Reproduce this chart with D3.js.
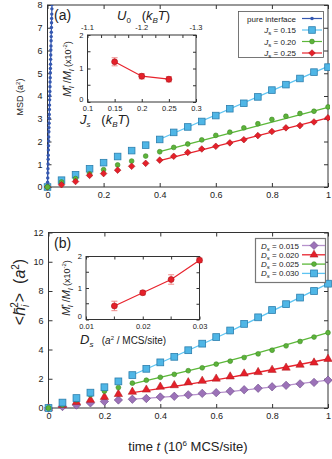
<!DOCTYPE html>
<html><head><meta charset="utf-8">
<script src="https://cdn.jsdelivr.net/npm/d3@7/dist/d3.min.js"></script>
<style>
body{margin:0;background:#fff;}
svg{display:block;font-family:"Liberation Sans",Arial,sans-serif;}
</style></head><body>
<script>
// ---------------- DATA ----------------
const timesMain = [0,0.05,0.1,0.15,0.2,0.25,0.3,0.35,0.4,0.45,0.5,0.55,0.6,0.65,0.7,0.75,0.8,0.85,0.9,0.95,1.0];
// panel (a) MSD (a^2)
const pureT   = [0,0.0004,0.0008,0.0012,0.0016,0.0020,0.0024,0.0028,0.0032,0.0036,0.0040,0.0044,0.0048,0.0052,0.0056,0.0060,0.0064,0.0068,0.0072,0.0076,0.0080,0.0084,0.0088,0.0092,0.0096,0.0100,0.0104,0.0108,0.0112,0.0116,0.0120,0.0124,0.0128,0.0132,0.0136,0.0140,0.0144,0.0148,0.0152,0.0156,0.0160];
const pureMSD = [0,0.21,0.40,0.62,0.80,1.01,1.22,1.40,1.63,1.81,2.02,2.20,2.43,2.61,2.80,3.02,3.19,3.41,3.60,3.83,4.01,4.20,4.41,4.62,4.80,5.02,5.21,5.40,5.61,5.80,6.02,6.20,6.43,6.61,6.80,7.01,7.22,7.41,7.60,7.83,8.02];
const msdJs015 = [0,0.30,0.54,0.80,1.07,1.34,1.60,1.84,2.09,2.40,2.64,2.88,3.14,3.44,3.68,3.96,4.26,4.50,4.77,5.05,5.27];
const msdJs020 = [0,0.22,0.37,0.58,0.76,0.97,1.14,1.36,1.55,1.74,1.89,2.07,2.27,2.41,2.60,2.78,2.97,3.11,3.23,3.33,3.52];
const msdJs025 = [0,0.10,0.24,0.51,0.59,0.74,0.91,1.04,1.18,1.35,1.52,1.67,1.79,1.94,2.08,2.26,2.44,2.60,2.70,2.86,3.04];
const fitTA = [0.4,1.0];
const fitJs015 = [2.10,5.30];
const fitJs020 = [1.55,3.50];
const fitJs025 = [1.16,3.04];
// inset (a)
const insetJs = [0.15,0.20,0.25];
const insetJsM = [1.20,0.77,0.68];
const insetJsErr = [0.12,0.08,0.08];
const u0Labels = ["-1.1","-1.2","-1.3"];
// panel (b) <h^2>
const hDs015 = [0,0.10,0.20,0.35,0.45,0.55,0.60,0.65,0.75,0.80,0.90,1.00,1.05,1.15,1.25,1.35,1.45,1.55,1.65,1.75,1.90];
const hDs020 = [0,0.20,0.40,0.55,0.75,0.95,1.10,1.25,1.45,1.55,1.75,1.85,2.00,2.15,2.35,2.45,2.60,2.75,2.95,3.10,3.35];
const hDs025 = [0,0.20,0.55,0.90,1.15,1.40,1.70,1.90,2.10,2.30,2.55,2.75,3.00,3.20,3.45,3.70,3.95,4.25,4.55,4.85,5.15];
const hDs030 = [0,0.37,0.68,1.05,1.42,1.82,2.25,2.68,3.12,3.50,3.95,4.40,4.85,5.30,5.75,6.20,6.70,7.10,7.55,8.00,8.50];
const fitTB = [0.3,0.65,1.0];
const fitDs015 = [0.60,1.12,1.90];
const fitDs020 = [1.05,2.10,3.35];
const fitDs025 = [1.65,3.25,5.15];
const fitDs030 = [2.25,5.25,8.50];
// inset (b)
const insetDs = [0.015,0.020,0.025,0.030];
const insetDsM = [0.43,0.85,1.27,1.88];
const insetDsErr = [0.15,0.07,0.15,0.07];
// ticks
const ticksX = [0,0.2,0.4,0.6,0.8,1];
const ticksYA = [0,1,2,3,4,5,6,7,8];
const ticksYB = [0,2,4,6,8,10,12];

// ---------------- STYLE ----------------
const C = {
  blueL:"#4fb6e6", blueLs:"#2c7fae", blueLine:"#5ec4f2",
  green:"#5db33a", greenS:"#3d8a25", greenLine:"#5cb83a",
  red:"#e5202a", redS:"#a8141a", redLine:"#e8232d",
  purple:"#9c72b8", purpleS:"#6c4a88", purpleLine:"#b792cc",
  pure:"#3558b0", err:"#f08a8a"
};
const FONT = '"Liberation Sans",Arial,sans-serif';

const svg = d3.select("body").append("svg").attr("width",332).attr("height",459);

function sym(type,size){ return d3.symbol().type(type).size(size)(); }
const diamondPath = (s)=>`M0,${-s}L${s},0L0,${s}L${-s},0Z`;

function frameAxes(g,x,y,xt,yt,opts){
  const [x0,x1]=x.range(), [y0,y1]=y.range();
  const tl = opts.tick||4;
  const fs = opts.fs||9;
  g.append("g").attr("transform",`translate(0,${y0})`)
    .call(d3.axisBottom(x).tickValues(xt).tickSize(-tl).tickPadding(opts.xpad||5).tickFormat(opts.xf||(d=>d)))
    .call(a=>{a.select(".domain").remove();a.selectAll("text").attr("font-size",fs).attr("font-family",FONT).attr("fill","#222");});
  g.append("g").attr("transform",`translate(0,${y1})`)
    .call(d3.axisTop(x).tickValues(opts.topTicks||xt).tickSize(-tl).tickFormat(""))
    .call(a=>a.select(".domain").remove());
  g.append("g").attr("class","yax").attr("transform",`translate(${x0},0)`)
    .call(d3.axisLeft(y).tickValues(yt).tickSize(-tl).tickPadding(opts.ypad||5).tickFormat(opts.yf||(d=>d)))
    .call(a=>{a.select(".domain").remove();a.selectAll("text").attr("font-size",fs).attr("font-family",FONT).attr("fill","#222");});
  g.append("g").attr("transform",`translate(${x1},0)`)
    .call(d3.axisRight(y).tickValues(opts.rightTicks||yt).tickSize(-tl).tickFormat(""))
    .call(a=>a.select(".domain").remove());
  g.selectAll(".tick line").attr("stroke","#333");
  g.append("rect").attr("x",x0).attr("y",y1).attr("width",x1-x0).attr("height",y0-y1)
    .attr("fill","none").attr("stroke","#333").attr("stroke-width",1);
}

// ---------------- PANEL (a) ----------------
const xa = d3.scaleLinear().domain([0,1]).range([47.5,328]);
const ya = d3.scaleLinear().domain([0,8]).range([187,5]);
const ga = svg.append("g");
ga.append("clipPath").attr("id","clipA").append("rect").attr("x",40).attr("y",5).attr("width",290).attr("height",190);
frameAxes(ga,xa,ya,ticksX,ticksYA,{fs:9});
ga.append("text").attr("transform","translate(23,97) rotate(-90)").attr("text-anchor","middle")
  .attr("font-size",9).attr("fill","#222").html('MSD (a<tspan dy="-3" font-size="6">2</tspan><tspan dy="3">)</tspan>');

const lineA = d3.line().x(d=>xa(d[0])).y(d=>ya(d[1]));
const dA = ga.append("g").attr("clip-path","url(#clipA)");
[[fitJs015,C.blueLine],[fitJs020,C.greenLine],[fitJs025,C.redLine]].forEach(([v,c])=>{
  dA.append("path").attr("d",lineA(fitTA.map((t,i)=>[t,v[i]]))).attr("fill","none").attr("stroke",c).attr("stroke-width",1.3);
});
dA.selectAll(".sqa").data(timesMain.map((t,i)=>[t,msdJs015[i]])).join("rect")
  .attr("x",d=>xa(d[0])-3.3).attr("y",d=>ya(d[1])-3.3).attr("width",6.6).attr("height",6.6)
  .attr("fill",C.blueL).attr("stroke",C.blueLs).attr("stroke-width",0.8);
dA.selectAll(".gca").data(timesMain.map((t,i)=>[t,msdJs020[i]])).join("circle")
  .attr("cx",d=>xa(d[0])).attr("cy",d=>ya(d[1])).attr("r",2.4)
  .attr("fill",C.green).attr("stroke",C.greenS).attr("stroke-width",0.6);
dA.selectAll(".rda").data(timesMain.map((t,i)=>[t,msdJs025[i]])).join("path")
  .attr("transform",d=>`translate(${xa(d[0])},${ya(d[1])})`).attr("d",diamondPath(3.3))
  .attr("fill",C.red).attr("stroke",C.redS).attr("stroke-width",0.6);
dA.append("path").attr("d",lineA(pureT.map((t,i)=>[t,pureMSD[i]]))).attr("fill","none").attr("stroke",C.pure).attr("stroke-width",1.2);
dA.selectAll(".pa").data(pureT.map((t,i)=>[t,pureMSD[i]])).join("circle")
  .attr("cx",d=>xa(d[0])).attr("cy",d=>ya(d[1])).attr("r",1.7).attr("fill",C.pure);
ga.append("circle").attr("cx",xa(0)).attr("cy",ya(0)).attr("r",2.6).attr("fill",C.green).attr("stroke",C.greenS).attr("stroke-width",0.6);

ga.append("text").attr("x",54).attr("y",20).attr("font-size",14).attr("fill","#222").text("(a)");

// legend (a)
const lgA = ga.append("g");
lgA.append("rect").attr("x",238.5).attr("y",11.5).attr("width",85).attr("height",46).attr("fill","#fff").attr("stroke","#555").attr("stroke-width",0.8);
const jsTxt = v=>`<tspan font-style="italic">J</tspan><tspan dy="2" font-size="6">s</tspan><tspan dy="-2"> = ${v}</tspan>`;
const legA = [
  {html:'pure interface', c:C.pure, m:"pure"},
  {html:jsTxt("0.15"), c:C.blueLine, m:"sq"},
  {html:jsTxt("0.20"), c:C.greenLine, m:"ci"},
  {html:jsTxt("0.25"), c:C.redLine, m:"di"}
];
legA.forEach((e,i)=>{
  const yy = 18.5+i*11.5;
  lgA.append("text").attr("x",296).attr("y",yy+3).attr("text-anchor","end").attr("font-size",8).attr("fill","#222").html(e.html);
  lgA.append("line").attr("x1",302).attr("x2",322).attr("y1",yy).attr("y2",yy).attr("stroke",e.c).attr("stroke-width",1.2);
  const mx=312;
  if(e.m==="pure") lgA.append("circle").attr("cx",mx).attr("cy",yy).attr("r",1.8).attr("fill",C.pure);
  if(e.m==="sq") lgA.append("rect").attr("x",mx-3.3).attr("y",yy-3.3).attr("width",6.6).attr("height",6.6).attr("fill",C.blueL).attr("stroke",C.blueLs).attr("stroke-width",0.8);
  if(e.m==="ci") lgA.append("circle").attr("cx",mx).attr("cy",yy).attr("r",2.4).attr("fill",C.green).attr("stroke",C.greenS).attr("stroke-width",0.6);
  if(e.m==="di") lgA.append("path").attr("transform",`translate(${mx},${yy})`).attr("d",diamondPath(3.3)).attr("fill",C.red).attr("stroke",C.redS).attr("stroke-width",0.6);
});

// inset (a)
const xia = d3.scaleLinear().domain([0.1,0.3]).range([87.5,196]);
const yia = d3.scaleLinear().domain([0,2]).range([102,35]);
const gia = svg.append("g");
gia.append("rect").attr("x",87.5).attr("y",35).attr("width",108.5).attr("height",67).attr("fill","#fff");
frameAxes(gia,xia,yia,[0.1,0.15,0.2,0.25,0.3],[0,1,2],{fs:7.5,tick:3,xpad:4,ypad:4,
  rightTicks:[0,0.5,1,1.5,2],topTicks:[0.1,0.125,0.15,0.175,0.2,0.225,0.25,0.275,0.3]});
[0.5,1.5].forEach(v=>gia.append("line").attr("x1",87.5).attr("x2",90.5).attr("y1",yia(v)).attr("y2",yia(v)).attr("stroke","#333"));
gia.selectAll(".yax text").filter(function(){return d3.select(this).text()==="0";}).attr("dy","-0.1em");
[0.1,0.2,0.3].forEach((v,i)=>gia.append("text").attr("x",xia(v)).attr("y",30).attr("text-anchor","middle").attr("font-size",7.5).attr("fill","#222").text(u0Labels[i]));
gia.append("text").attr("x",117).attr("y",20).attr("font-size",13).attr("fill","#222")
  .html('<tspan font-style="italic">U</tspan><tspan dy="3" font-size="8">0</tspan><tspan dy="-3" xml:space="preserve">   (</tspan><tspan font-style="italic">k</tspan><tspan dy="3" font-size="8" font-style="italic">B</tspan><tspan dy="-3" font-style="italic">T</tspan>)');
gia.append("text").attr("x",80).attr("y",124).attr("font-size",13).attr("fill","#222")
  .html('<tspan font-style="italic">J</tspan><tspan dy="3" font-size="8" font-style="italic">s</tspan><tspan dy="-3" xml:space="preserve">   (</tspan><tspan font-style="italic">k</tspan><tspan dy="3" font-size="8" font-style="italic">B</tspan><tspan dy="-3" font-style="italic">T</tspan>)');
const mTxt = '<tspan font-style="italic">M</tspan><tspan dy="-4" font-size="7">*</tspan><tspan dx="-3" dy="7" font-size="7" font-style="italic">l</tspan><tspan dy="-3"> /</tspan><tspan font-style="italic">M</tspan><tspan dy="3" font-size="7" font-style="italic">l</tspan><tspan dy="-3" font-size="9"> (x10</tspan><tspan dy="-4" font-size="6">-2</tspan><tspan dy="4" font-size="9">)</tspan>';
gia.append("text").attr("transform","translate(71,69) rotate(-90)").attr("text-anchor","middle").attr("font-size",11).attr("fill","#222").html(mTxt);
const iaPts = insetJs.map((v,i)=>[v,insetJsM[i],insetJsErr[i]]);
gia.selectAll(".ea").data(iaPts).join("path")
  .attr("d",d=>{const x=xia(d[0]),t=yia(d[1]+d[2]),b=yia(d[1]-d[2]);return `M${x},${t}V${b}M${x-3},${t}H${x+3}M${x-3},${b}H${x+3}`;})
  .attr("stroke",C.err).attr("stroke-width",1).attr("fill","none");
gia.append("path").attr("d",d3.line().x(d=>xia(d[0])).y(d=>yia(d[1]))(iaPts)).attr("fill","none").attr("stroke",C.redLine).attr("stroke-width",1.2);
gia.selectAll(".pia").data(iaPts).join("circle").attr("cx",d=>xia(d[0])).attr("cy",d=>yia(d[1])).attr("r",3)
  .attr("fill",C.red).attr("stroke",C.redS).attr("stroke-width",0.6);

// ---------------- PANEL (b) ----------------
const xb = d3.scaleLinear().domain([0,1]).range([48.5,328]);
const yb = d3.scaleLinear().domain([0,12]).range([408,232.5]);
const gb = svg.append("g");
frameAxes(gb,xb,yb,ticksX,ticksYB,{fs:9});
gb.append("text").attr("transform","translate(25,292) rotate(-90)").attr("text-anchor","middle").attr("font-size",16).attr("fill","#222")
  .html('&lt;<tspan font-style="italic">h&#772;</tspan><tspan dy="4" font-size="10" font-style="italic">i</tspan><tspan dx="-3" dy="-11" font-size="10">2</tspan><tspan dy="7">&gt;</tspan><tspan xml:space="preserve">  (</tspan><tspan font-style="italic">a</tspan><tspan dy="-6" font-size="10">2</tspan><tspan dy="6">)</tspan>');
gb.append("text").attr("x",188).attr("y",451).attr("text-anchor","middle").attr("font-size",13).attr("fill","#222")
  .html('time <tspan font-style="italic">t</tspan>  (10<tspan dy="-5" font-size="8">6</tspan><tspan dy="5"> MCS/site)</tspan>');
gb.append("text").attr("x",54).attr("y",248).attr("font-size",14).attr("fill","#222").text("(b)");

const dB = gb.append("g");
const lineB = d3.line().x(d=>xb(d[0])).y(d=>yb(d[1])).curve(d3.curveNatural);
[[fitDs030,C.blueLine],[fitDs025,C.greenLine],[fitDs020,C.redLine],[fitDs015,C.purpleLine]].forEach(([v,c])=>{
  dB.append("path").attr("d",lineB(fitTB.map((t,i)=>[t,v[i]]))).attr("fill","none").attr("stroke",c).attr("stroke-width",1.3);
});
dB.selectAll(".pdb").data(timesMain.map((t,i)=>[t,hDs015[i]])).join("path")
  .attr("transform",d=>`translate(${xb(d[0])},${yb(d[1])})`).attr("d",diamondPath(4.2))
  .attr("fill",C.purple).attr("stroke",C.purpleS).attr("stroke-width",0.6);
dB.selectAll(".rtb").data(timesMain.map((t,i)=>[t,hDs020[i]])).join("path")
  .attr("transform",d=>`translate(${xb(d[0])},${yb(d[1])})`).attr("d",sym(d3.symbolTriangle,30))
  .attr("fill",C.red).attr("stroke",C.redS).attr("stroke-width",0.5);
dB.selectAll(".gcb").data(timesMain.map((t,i)=>[t,hDs025[i]])).join("circle")
  .attr("cx",d=>xb(d[0])).attr("cy",d=>yb(d[1])).attr("r",2.4)
  .attr("fill",C.green).attr("stroke",C.greenS).attr("stroke-width",0.6);
dB.selectAll(".sqb").data(timesMain.map((t,i)=>[t,hDs030[i]])).join("rect")
  .attr("x",d=>xb(d[0])-3.4).attr("y",d=>yb(d[1])-3.4).attr("width",6.8).attr("height",6.8)
  .attr("fill",C.blueL).attr("stroke",C.blueLs).attr("stroke-width",0.8);
gb.append("circle").attr("cx",xb(0)).attr("cy",yb(0)).attr("r",2.6).attr("fill",C.green).attr("stroke",C.greenS).attr("stroke-width",0.6);

// legend (b)
const lgB = gb.append("g");
lgB.append("rect").attr("x",255.5).attr("y",238.5).attr("width",70).attr("height",44).attr("fill","#fff").attr("stroke","#777").attr("stroke-width",1.2);
const dsTxt = v=>`<tspan font-style="italic">D</tspan><tspan dy="2" font-size="6" font-style="italic">s</tspan><tspan dy="-2"> = ${v}</tspan>`;
const legB = [
  {v:"0.015",c:C.purpleLine,m:"pd"},{v:"0.020",c:C.redLine,m:"tr"},{v:"0.025",c:C.greenLine,m:"ci"},{v:"0.030",c:C.blueLine,m:"sq"}
];
legB.forEach((e,i)=>{
  const yy = 245.5+i*9.3;
  lgB.append("text").attr("x",299).attr("y",yy+3).attr("text-anchor","end").attr("font-size",8).attr("fill","#222").html(dsTxt(e.v));
  lgB.append("line").attr("x1",302).attr("x2",325).attr("y1",yy).attr("y2",yy).attr("stroke",e.c).attr("stroke-width",1.3);
  const mx=314;
  if(e.m==="pd") lgB.append("path").attr("transform",`translate(${mx},${yy})`).attr("d",diamondPath(4)).attr("fill",C.purple).attr("stroke",C.purpleS).attr("stroke-width",0.6);
  if(e.m==="tr") lgB.append("path").attr("transform",`translate(${mx},${yy})`).attr("d",sym(d3.symbolTriangle,28)).attr("fill",C.red).attr("stroke",C.redS).attr("stroke-width",0.5);
  if(e.m==="ci") lgB.append("circle").attr("cx",mx).attr("cy",yy).attr("r",2.4).attr("fill",C.green).attr("stroke",C.greenS).attr("stroke-width",0.6);
  if(e.m==="sq") lgB.append("rect").attr("x",mx-3.4).attr("y",yy-3.4).attr("width",6.8).attr("height",6.8).attr("fill",C.blueL).attr("stroke",C.blueLs).attr("stroke-width",0.8);
});

// inset (b)
const xib = d3.scaleLinear().domain([0.01,0.03]).range([86,199.5]);
const yib = d3.scaleLinear().domain([0,2]).range([319.5,256.5]);
const gib = svg.append("g");
gib.append("rect").attr("x",86).attr("y",256.5).attr("width",113.5).attr("height",63).attr("fill","#fff");
frameAxes(gib,xib,yib,[0.01,0.02,0.03],[0,1,2],{fs:7.5,tick:3,xpad:4,ypad:4,
  rightTicks:[0,0.5,1,1.5,2],topTicks:[0.01,0.015,0.02,0.025,0.03]});
gib.selectAll(".yax text").filter(function(){return d3.select(this).text()==="0";}).attr("dy","-0.15em");
[0.5,1.5].forEach(v=>gib.append("line").attr("x1",86).attr("x2",89).attr("y1",yib(v)).attr("y2",yib(v)).attr("stroke","#333"));
[0.015,0.025].forEach(v=>gib.append("line").attr("x1",xib(v)).attr("x2",xib(v)).attr("y1",319.5).attr("y2",316.5).attr("stroke","#333"));
gib.append("text").attr("x",80).attr("y",344).attr("font-size",13).attr("fill","#222")
  .html('<tspan font-style="italic">D</tspan><tspan dy="3" font-size="8" font-style="italic">s</tspan><tspan dy="-3" xml:space="preserve" font-size="10">   (</tspan><tspan font-size="10" font-style="italic">a</tspan><tspan dy="-4" font-size="6">2</tspan><tspan dy="4" font-size="10"> / MCS/site)</tspan>');
gib.append("text").attr("transform","translate(70,288) rotate(-90)").attr("text-anchor","middle").attr("font-size",11).attr("fill","#222").html(mTxt);
const ibPts = insetDs.map((v,i)=>[v,insetDsM[i],insetDsErr[i]]);
gib.selectAll(".eb").data(ibPts).join("path")
  .attr("d",d=>{const x=xib(d[0]),t=yib(d[1]+d[2]),b=yib(d[1]-d[2]);return `M${x},${t}V${b}M${x-3},${t}H${x+3}M${x-3},${b}H${x+3}`;})
  .attr("stroke",C.err).attr("stroke-width",1).attr("fill","none");
gib.append("path").attr("d",d3.line().x(d=>xib(d[0])).y(d=>yib(d[1]))(ibPts)).attr("fill","none").attr("stroke",C.redLine).attr("stroke-width",1.2);
gib.selectAll(".pib").data(ibPts).join("circle").attr("cx",d=>xib(d[0])).attr("cy",d=>yib(d[1])).attr("r",3)
  .attr("fill",C.red).attr("stroke",C.redS).attr("stroke-width",0.6);
</script>
</body></html>
